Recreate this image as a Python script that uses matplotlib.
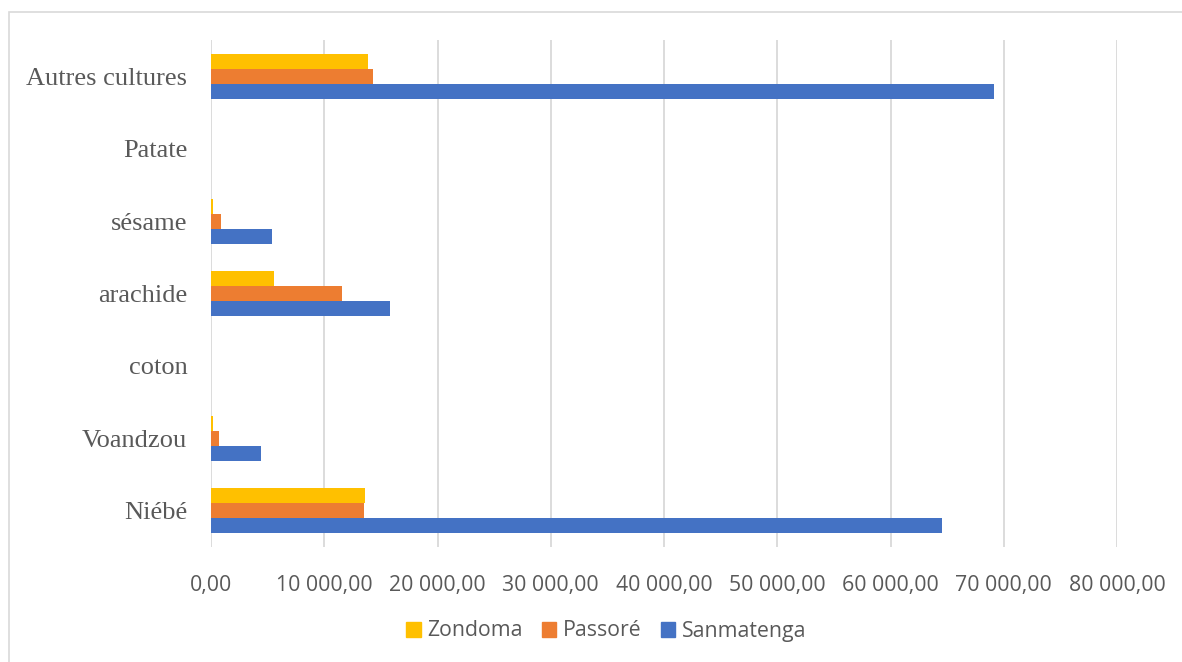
import matplotlib
matplotlib.use("Agg")
import matplotlib.pyplot as plt
import matplotlib.patches as patches
from matplotlib.ticker import FuncFormatter, MultipleLocator
import numpy as np

# categories from bottom to top
cultures = ["Niébé", "Voandzou", "coton", "arachide", "sésame", "Patate", "Autres cultures"]
sanmatenga = [64580, 4440, 0, 15770, 5410, 0, 69130]
passore = [13500, 710, 0, 11590, 860, 0, 14330]
zondoma = [13560, 150, 0, 5590, 150, 0, 13830]

series = [("Zondoma", zondoma, "#FFC000"),
          ("Passoré", passore, "#ED7D31"),
          ("Sanmatenga", sanmatenga, "#4472C4")]

W, H = 1182, 662
fig = plt.figure(figsize=(W / 100, H / 100), dpi=100)
ax = fig.add_axes([211 / W, (H - 547) / H, (1117 - 211) / W, (547 - 40) / H])

y = np.arange(len(cultures))
h = 0.207
offsets = [h, 0, -h]  # Zondoma on top, Sanmatenga at bottom
for (name, vals, col), off in zip(series, offsets):
    ax.barh(y + off, vals, height=h, color=col, label=name, zorder=3)

ax.set_xlim(0, 80000)
ax.set_ylim(-0.5, len(cultures) - 0.5)
ax.xaxis.set_major_locator(MultipleLocator(10000))
ax.xaxis.set_major_formatter(FuncFormatter(
    lambda v, p: f"{v:,.2f}".replace(",", " ").replace(".", ",")))
ax.grid(axis="x", color="#d9d9d9", linewidth=1.3, zorder=0)
for s in ax.spines.values():
    s.set_visible(False)
ax.tick_params(axis="both", length=0)
ax.tick_params(axis="x", pad=20, labelsize=15.3, labelcolor="#595959")
ax.tick_params(axis="y", pad=17, labelsize=19, labelcolor="#595959")
ax.set_yticks(y)
ax.set_yticklabels(cultures, family="Liberation Serif")
for lab in ax.get_xticklabels():
    lab.set_family("Open Sans")

handles = [patches.Patch(color=c, label=n) for n, _, c in series]
fig.legend(handles=handles, loc="center", bbox_to_anchor=(606 / W, 1 - 631 / H),
           ncol=3, frameon=False, prop={"family": "Open Sans", "size": 15.3},
           labelcolor="#595959", handlelength=0.7, handleheight=0.7,
           handletextpad=0.3, columnspacing=0.9)

# outer chart border
fig.patches.append(patches.Rectangle((8.5 / W, -0.01), 1.0, 1 - 11.5 / H + 0.01,
                                     transform=fig.transFigure, fill=False,
                                     edgecolor="#d9d9d9", linewidth=1.2))

fig.savefig("out.png", dpi=100)
